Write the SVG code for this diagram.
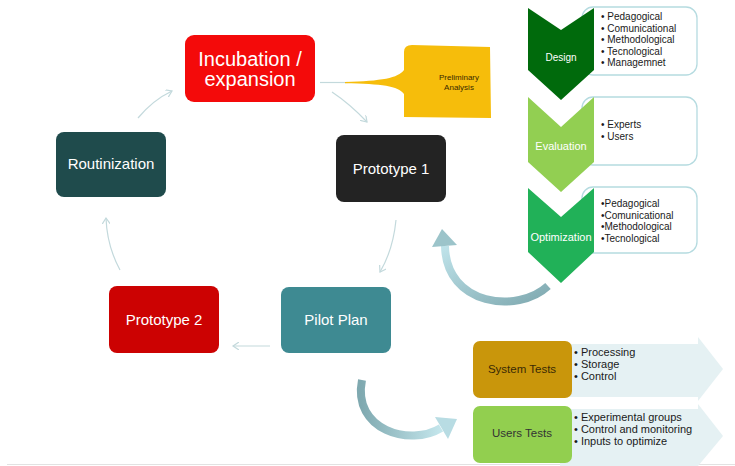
<svg xmlns="http://www.w3.org/2000/svg" width="735" height="466" viewBox="0 0 735 466">
<defs>
<style>
.lbl{font-family:"Liberation Sans",Arial,sans-serif;fill:#fff;text-anchor:middle}
.lst{font-family:"Liberation Sans",Arial,sans-serif;fill:#1a1a1a;font-size:10px}
.con{fill:none;stroke:#c3d9dc;stroke-width:1.2}
.box{fill:#fff;stroke:#b5dbe0;stroke-width:1.3}
.big{fill:#e5f1f3}
</style>
<marker id="ah" markerWidth="8" markerHeight="8" refX="6" refY="4" orient="auto" markerUnits="userSpaceOnUse">
<path d="M0,0 L6,4 L0,8" fill="none" stroke="#c3d9dc" stroke-width="1.2"/>
</marker>
<linearGradient id="bg1" x1="0" y1="0" x2="1" y2="1">
<stop offset="0" stop-color="#bfe3ea"/>
<stop offset="1" stop-color="#7fa9b0"/>
</linearGradient>
<linearGradient id="bg2" x1="0" y1="0" x2="1" y2="0">
<stop offset="0" stop-color="#7fa9b0"/>
<stop offset="1" stop-color="#c4e6ec"/>
</linearGradient>
</defs>
<rect width="735" height="466" fill="#fff"/>
<line x1="7" y1="464.5" x2="735" y2="464.5" stroke="#e2e2e2" stroke-width="1"/>

<g id="connectors">
<path class="con" d="M332,92 Q350,104 367,122" marker-end="url(#ah)"/>
<path class="con" d="M396,220 Q393,250 380,272" marker-end="url(#ah)"/>
<path class="con" d="M270,346 L233,346" marker-end="url(#ah)"/>
<path class="con" d="M120,270 Q107,246 106,218" marker-end="url(#ah)"/>
<path class="con" d="M138,118 Q153,100 172,91" marker-end="url(#ah)"/>
<g id="curve-up">
<path d="M548,286 C518,314 446,306 445,246" fill="none" stroke="url(#bg1)" stroke-width="8"/>
<polygon points="442,229 457,245 432,247" fill="#9cc4ca"/>
</g>
<g id="curve-down">
<path d="M362,380 C352,430 410,447 441,428" fill="none" stroke="url(#bg2)" stroke-width="8"/>
<polygon points="457,419 448,439 435,417" fill="#b8dce3"/>
</g>
</g>

<g id="incubation">
<rect x="185" y="35" width="130" height="67" rx="9" fill="#f40a0a"/>
<text class="lbl" x="250" y="66" font-size="20">Incubation /</text>
<text class="lbl" x="250" y="86" font-size="20">expansion</text>
</g>
<g id="preliminary">
<line x1="320" y1="82.5" x2="348" y2="82.5" stroke="#c3d9dc" stroke-width="1.2"/>
<path d="M404,52 Q404,45 412,45 L490,47 L491,118 L404,117 L404,94 C398,86 382,84 345,83.3 L345,82 C382,81 398,78 404,70 Z" fill="#f6bd0b"/>
<text x="459" y="80" font-size="8" font-family="'Liberation Sans',Arial,sans-serif" fill="#3a2a00" text-anchor="middle">Preliminary</text>
<text x="459" y="90" font-size="8" font-family="'Liberation Sans',Arial,sans-serif" fill="#3a2a00" text-anchor="middle">Analysis</text>
</g>
<g id="prototype1">
<rect x="336" y="135" width="110" height="67" rx="8" fill="#232323"/>
<text class="lbl" x="391" y="174" font-size="15">Prototype 1</text>
</g>
<g id="routinization">
<rect x="56" y="132" width="110" height="65" rx="8" fill="#1f4b4c"/>
<text class="lbl" x="111" y="169" font-size="15">Routinization</text>
</g>
<g id="prototype2">
<rect x="109" y="286" width="110" height="67" rx="8" fill="#cc0202"/>
<text class="lbl" x="164" y="325" font-size="15">Prototype 2</text>
</g>
<g id="pilot">
<rect x="281" y="287" width="110" height="66" rx="8" fill="#3e8a92"/>
<text class="lbl" x="336" y="325" font-size="15">Pilot Plan</text>
</g>

<g id="design">
<rect class="box" x="582" y="7" width="115" height="68" rx="11"/>
<path d="M528,8 L561,30 L594,8 L594,70 L561,100 L528,70 Z" fill="#006a0c"/>
<text class="lbl" x="561" y="61" font-size="10">Design</text>
<text class="lst" x="601" y="20">• Pedagogical</text>
<text class="lst" x="601" y="31.5">• Comunicational</text>
<text class="lst" x="601" y="43">• Methodological</text>
<text class="lst" x="601" y="54.5">• Tecnological</text>
<text class="lst" x="601" y="66">• Managemnet</text>
</g>
<g id="evaluation">
<rect class="box" x="582" y="97" width="115" height="68" rx="11"/>
<path d="M528,97 L561,127 L594,97 L594,162 L561,192 L528,162 Z" fill="#92cf52"/>
<text class="lbl" x="561" y="150" font-size="11" fill="#f2f9ec">Evaluation</text>
<text class="lst" x="601" y="128">• Experts</text>
<text class="lst" x="601" y="139.5">• Users</text>
</g>
<g id="optimization">
<rect class="box" x="582" y="187" width="115" height="66" rx="11"/>
<path d="M528,188 L561,217 L594,188 L594,252 L561,283 L528,252 Z" fill="#21b158"/>
<text class="lbl" x="561" y="241" font-size="11">Optimization</text>
<text class="lst" x="601" y="207">•Pedagogical</text>
<text class="lst" x="601" y="218.5">•Comunicational</text>
<text class="lst" x="601" y="230">•Methodological</text>
<text class="lst" x="601" y="241.5">•Tecnological</text>
</g>

<g id="system-tests">
<polygon class="big" points="560,344 698,344 698,337 723,369 698,401 698,397 560,397"/>
<rect x="473" y="341" width="99" height="57" rx="7" fill="#c9960b"/>
<text x="522" y="373" font-size="11.5" font-family="'Liberation Sans',Arial,sans-serif" fill="#3a2a05" text-anchor="middle">System Tests</text>
<text class="lst" x="574" y="356" style="font-size:11px">• Processing</text>
<text class="lst" x="574" y="368" style="font-size:11px">• Storage</text>
<text class="lst" x="574" y="380" style="font-size:11px">• Control</text>
</g>
<g id="users-tests">
<polygon class="big" points="560,409 698,409 698,404 723,436 698,466 560,466"/>
<rect x="473" y="406" width="99" height="57" rx="7" fill="#92cf4f"/>
<text x="522" y="437" font-size="11.5" font-family="'Liberation Sans',Arial,sans-serif" fill="#333" text-anchor="middle">Users Tests</text>
<text class="lst" x="574" y="421" style="font-size:11px">• Experimental groups</text>
<text class="lst" x="574" y="433" style="font-size:11px">• Control and monitoring</text>
<text class="lst" x="574" y="445" style="font-size:11px">• Inputs to optimize</text>
</g>
</svg>
